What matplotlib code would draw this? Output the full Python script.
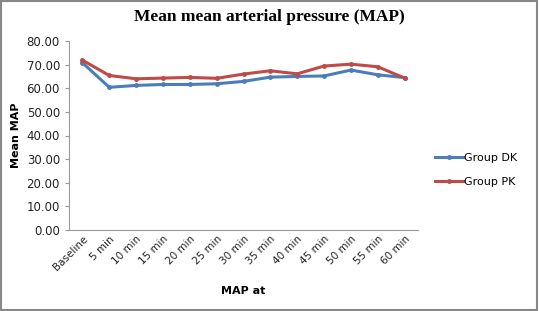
import matplotlib.pyplot as plt
from matplotlib.patches import Rectangle

categories = ['Baseline', '5 min', '10 min', '15 min', '20 min', '25 min', '30 min',
              '35 min', '40 min', '45 min', '50 min', '55 min', '60 min']
group_dk = [70.8, 60.4, 61.2, 61.6, 61.6, 61.9, 62.9, 64.7, 65.0, 65.2, 67.7, 65.7, 64.5]
group_pk = [71.9, 65.4, 64.0, 64.3, 64.6, 64.2, 66.0, 67.4, 66.1, 69.4, 70.2, 69.1, 64.3]
yticks = [0, 10, 20, 30, 40, 50, 60, 70, 80]

fig = plt.figure(facecolor='white')
fig.set_size_inches(5.39, 3.11)
ax = fig.add_axes([69/539, 1-230/311, (418-69)/539, (230-41)/311])

x = list(range(len(categories)))
ax.plot(x, group_dk, color='#4A7EBB', linewidth=2.2, marker='o', markersize=2.5, label='Group DK')
ax.plot(x, group_pk, color='#BE4B48', linewidth=2.2, marker='o', markersize=2.5, label='Group PK')

ax.set_xlim(-0.5, len(categories) - 0.5)
ax.set_ylim(0, 80)
ax.set_yticks(yticks)
ax.set_yticklabels(['%.2f' % v for v in yticks], fontsize=8.5, color='#222222')
ax.set_xticks(x)
ax.set_xticklabels(categories, rotation=45, ha='right', rotation_mode='anchor', fontsize=7.5, color='#222222')
ax.tick_params(axis='x', length=0, pad=3)
ax.tick_params(axis='y', length=3, color='#999999', direction='out')

for s in ['top', 'right']:
    ax.spines[s].set_visible(False)
for s in ['left', 'bottom']:
    ax.spines[s].set_color('#999999')

ax.set_ylabel('Mean MAP', fontsize=8, fontweight='bold', labelpad=4)
fig.text((69+418)/2/539, 1-291/311, 'MAP at', fontsize=8, fontweight='bold', ha='center', va='center')
fig.text(0.5, 1-17/311, 'Mean mean arterial pressure (MAP)', fontsize=12.5, fontweight='bold',
         family='Liberation Serif', ha='center', va='center')

ax.legend(loc='center left', bbox_to_anchor=(1.02, 0.317), frameon=False, fontsize=8,
          handlelength=2.5, handletextpad=0.1, labelspacing=1.3)

# grey frame around the picture
fig.patches.append(Rectangle((0.002, 0.003), 0.995, 0.993, transform=fig.transFigure,
                             fill=False, edgecolor='#888888', linewidth=1.5))

plt.savefig('out.png', dpi=100)
